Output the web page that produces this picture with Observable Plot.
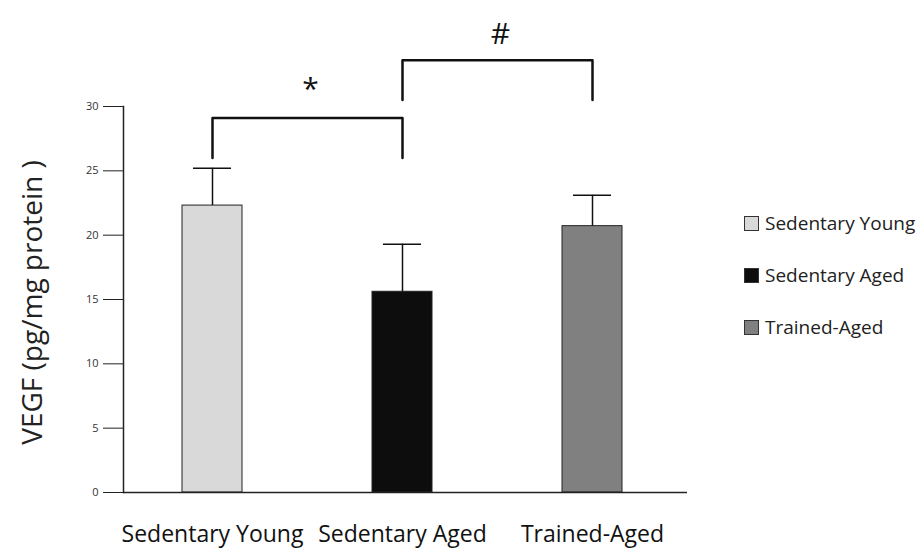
<!DOCTYPE html>
<html>
<head>
<meta charset="utf-8">
<script src="https://cdn.jsdelivr.net/npm/d3@7"></script>
<script src="https://cdn.jsdelivr.net/npm/@observablehq/plot@0.6"></script>
<style>
  html, body { margin: 0; padding: 0; background: #fff; }
  #wrap { position: relative; width: 924px; height: 557px; font-family: "Open Sans", sans-serif; }
  #legend { position: absolute; left: 744px; top: 210px; font-size: 19px; color: #222; }
  .item { display: flex; align-items: center; height: 26px; margin-bottom: 26px; white-space: nowrap; }
  .sw { width: 15px; height: 15px; border: 1px solid #333; margin-right: 6px; box-sizing: border-box; }
</style>
</head>
<body>
<div id="wrap"><div id="legend"></div></div>
<script>
const groups = ["Sedentary Young", "Sedentary Aged", "Trained-Aged"];
const means = [22.3, 15.6, 20.7];
const errors = [2.9, 3.7, 2.4];
const fills = ["#d9d9d9", "#0d0d0d", "#808080"];
const yTicks = [0, 5, 10, 15, 20, 25, 30];
const yLabel = "VEGF (pg/mg protein )";

// significance brackets
const bracketFrom = ["Sedentary Young", "Sedentary Aged"];
const bracketTo = ["Sedentary Aged", "Trained-Aged"];
const bracketTop = [29.1, 33.6];
const bracketLeg = [26.0, 30.5];
const bracketSymbol = ["*", "#"];
const symbolY = [31.3, 35.6];

const bars = groups.map((g, i) => ({group: g, mean: means[i], hi: means[i] + errors[i], fill: fills[i]}));
const bracketPaths = [];
bracketFrom.forEach((f, i) => {
  const t = bracketTo[i];
  bracketPaths.push({k: i, x: f, y: bracketLeg[i]});
  bracketPaths.push({k: i, x: f, y: bracketTop[i]});
  bracketPaths.push({k: i, x: t, y: bracketTop[i]});
  bracketPaths.push({k: i, x: t, y: bracketLeg[i]});
});
const symbols = bracketSymbol.map((s, i) => ({s, y: symbolY[i], a: bracketFrom[i]}));

const chart = Plot.plot({
  width: 924,
  height: 557,
  marginLeft: 123,
  marginRight: 237,
  marginTop: 106,
  marginBottom: 65,
  style: {fontFamily: "Open Sans, sans-serif", background: "#fff"},
  x: {domain: groups, paddingInner: 0.684, paddingOuter: 0.326, align: 0.476},
  y: {domain: [0, 30]},
  marks: [
    Plot.barY(bars, {x: "group", y: "mean", fill: "fill", stroke: "#222", strokeWidth: 1}),
    Plot.ruleX(bars, {x: "group", y1: "mean", y2: "hi", stroke: "#111", strokeWidth: 1.5}),
    Plot.tickY(bars, {x: "group", y: "hi", stroke: "#111", strokeWidth: 1.5, insetLeft: 11, insetRight: 11}),
    Plot.ruleY([0], {stroke: "#222", strokeWidth: 1.5}),
    Plot.frame({anchor: "left", stroke: "#222", strokeWidth: 1.5}),
    Plot.axisY({ticks: yTicks, tickSize: 20, tickPadding: 5, fontSize: 11, stroke: "#222", color: "#333", label: null}),
    Plot.axisX({tickSize: 0, tickPadding: 33, fontSize: 23, label: null, color: "#111"}),
    Plot.text([yLabel], {frameAnchor: "left", textAnchor: "middle", lineAnchor: "middle", text: d => d, rotate: -90, dx: -90, dy: 3, fontSize: 28, fill: "#222"}),
    Plot.line(bracketPaths, {x: "x", y: "y", z: "k", stroke: "#111", strokeWidth: 2.5, curve: "linear"}),
    Plot.text(symbols, {x: d => d.a, y: "y", text: "s", fontSize: 30, fill: "#111", dx: 98})
  ]
});
document.getElementById("wrap").prepend(chart);

const legend = document.getElementById("legend");
groups.forEach((g, i) => {
  const item = document.createElement("div");
  item.className = "item";
  const sw = document.createElement("div");
  sw.className = "sw";
  sw.style.background = fills[i];
  const lab = document.createElement("span");
  lab.textContent = g;
  item.append(sw, lab);
  legend.append(item);
});
</script>
</body>
</html>
